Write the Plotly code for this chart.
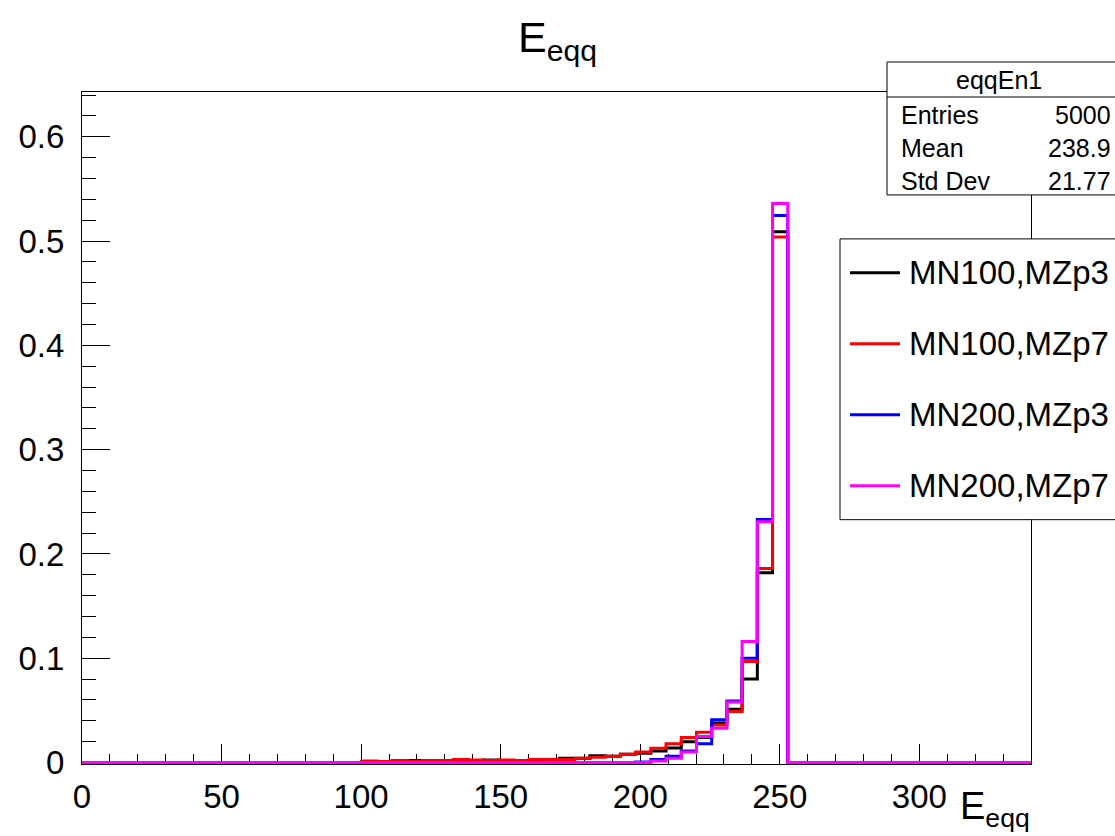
import plotly.graph_objects as go

# Bin edges of the E_eqq histogram (GeV); everything outside is empty
EDGES = [100.25, 105.70, 111.15, 116.60, 122.05, 127.50, 132.95, 138.40, 143.85,
         149.30, 154.75, 160.20, 165.65, 171.10, 176.55, 182.00, 187.45, 192.90,
         198.35, 203.80, 209.25, 214.70, 220.15, 225.60, 231.05, 236.50, 241.95,
         247.40, 252.85]
X_MIN, X_MAX = 0, 340

SERIES = ["MN100,MZp3", "MN100,MZp7", "MN200,MZp3", "MN200,MZp7"]
COLORS = ["#000000", "#ff0000", "#0000ff", "#ff00ff"]

# Normalised bin contents, one value per bin between consecutive EDGES
MN100_MZP3 = [0.001, 0.001, 0.0015, 0.002, 0.001, 0.002, 0.0015, 0.002, 0.0025,
              0.002, 0.002, 0.0025, 0.003, 0.004, 0.004, 0.0065, 0.006, 0.008, 0.009,
              0.011, 0.014, 0.020, 0.024, 0.038, 0.051, 0.080, 0.182, 0.509]
MN100_MZP7 = [0.0015, 0.001, 0.002, 0.001, 0.002, 0.002, 0.003, 0.0025, 0.002,
              0.0025, 0.002, 0.003, 0.003, 0.003, 0.004, 0.005, 0.006, 0.008, 0.010,
              0.0136, 0.018, 0.024, 0.029, 0.036, 0.049, 0.097, 0.186, 0.504]
MN200_MZP3 = [0, 0, 0, 0, 0, 0, 0, 0, 0,
              0, 0, 0, 0, 0, 0, 0, 0, 0, 0.0005,
              0.003, 0.006, 0.011, 0.018, 0.041, 0.059, 0.100, 0.233, 0.5245]
MN200_MZP7 = [0, 0, 0, 0, 0, 0, 0, 0, 0,
              0, 0, 0, 0, 0, 0, 0, 0, 0, 0,
              0.0015, 0.004, 0.010, 0.025, 0.033, 0.058, 0.116, 0.231, 0.536]
VALUES = [MN100_MZP3, MN100_MZP7, MN200_MZP3, MN200_MZP7]

STATS_NAME = "eqqEn1"
STATS_ROWS = [("Entries", "5000"), ("Mean", "238.9"), ("Std Dev", "21.77")]

W, H = 1115, 836
L, R, T, B = 82, 1031, 92, 764.5  # frame in pixels
Y_MIN, Y_MAX = -0.0014, 0.643     # small offset keeps the zero-level line unclipped
FONT = "Liberation Sans, Arial, Helvetica, sans-serif"


def px(x):
    return (x - L) / (R - L)


def py(y):
    return (B - y) / (B - T)


fig = go.Figure()

for name, color, vals in zip(SERIES, COLORS, VALUES):
    xs = [X_MIN] + EDGES + [X_MAX]
    ys = [0] + vals + [0, 0]
    fig.add_trace(go.Scatter(x=xs, y=ys, mode="lines", name=name,
                             line=dict(color=color, width=3, shape="hv"),
                             showlegend=False, hoverinfo="skip"))

axis_common = dict(showgrid=False, zeroline=False, showline=True, linecolor="black",
                   linewidth=1, mirror=True, ticks="inside", tickcolor="black",
                   tickwidth=1, layer="below traces",
                   tickfont=dict(family=FONT, size=33, color="black"))

fig.update_xaxes(range=[X_MIN, X_MAX], tickmode="array",
                 tickvals=[0, 50, 100, 150, 200, 250, 300],
                 ticktext=["0", "50", "100", "150", "200", "250", "300"],
                 ticklen=20, ticklabelstandoff=3,
                 minor=dict(dtick=10, tick0=0, ticks="inside", ticklen=10,
                            tickcolor="black", tickwidth=1),
                 **axis_common)
fig.update_yaxes(range=[Y_MIN, Y_MAX], tickmode="array",
                 tickvals=[0, 0.1, 0.2, 0.3, 0.4, 0.5, 0.6],
                 ticktext=["0", "0.1", "0.2", "0.3", "0.4", "0.5", "0.6"],
                 ticklen=28, ticklabelstandoff=10,
                 minor=dict(dtick=0.02, tick0=0, ticks="inside", ticklen=14,
                            tickcolor="black", tickwidth=1),
                 **axis_common)

shapes = []
annotations = []

# Title and x-axis label
annotations.append(dict(xref="paper", yref="paper", x=px(557), y=py(40),
                        text="E<sub>eqq</sub>", showarrow=False,
                        xanchor="center", yanchor="middle",
                        font=dict(family=FONT, size=43, color="black")))
annotations.append(dict(xref="paper", yref="paper", x=px(1032), y=py(810),
                        text="E<sub>eqq</sub>", showarrow=False,
                        xanchor="right", yanchor="middle",
                        font=dict(family=FONT, size=38, color="black")))

# Statistics box
sx0, sx1, sy0, sy1, sdiv = 887, 1120, 62, 195, 97
shapes.append(dict(type="rect", xref="paper", yref="paper",
                   x0=px(sx0), x1=px(sx1), y0=py(sy1), y1=py(sy0),
                   line=dict(color="black", width=1), fillcolor="white", layer="above"))
shapes.append(dict(type="line", xref="paper", yref="paper",
                   x0=px(sx0), x1=px(sx1), y0=py(sdiv), y1=py(sdiv),
                   line=dict(color="black", width=1), layer="above"))
annotations.append(dict(xref="paper", yref="paper", x=px(999), y=py(80),
                        text=STATS_NAME, showarrow=False, xanchor="center",
                        yanchor="middle", font=dict(family=FONT, size=25, color="black")))
for i, (k, v) in enumerate(STATS_ROWS):
    yy = py(115 + 33 * i)
    annotations.append(dict(xref="paper", yref="paper", x=px(899), y=yy, text=k,
                            showarrow=False, xanchor="left", yanchor="middle",
                            font=dict(family=FONT, size=25, color="black")))
    annotations.append(dict(xref="paper", yref="paper", x=px(1113), y=yy, text=v,
                            showarrow=False, xanchor="right", yanchor="middle",
                            font=dict(family=FONT, size=25, color="black")))

# Legend box
lx0, lx1, ly0, ly1 = 840, 1120, 239, 520
shapes.append(dict(type="rect", xref="paper", yref="paper",
                   x0=px(lx0), x1=px(lx1), y0=py(ly1), y1=py(ly0),
                   line=dict(color="black", width=1), fillcolor="white", layer="above"))
for i, (name, color) in enumerate(zip(SERIES, COLORS)):
    yy = 273 + 71 * i
    shapes.append(dict(type="line", xref="paper", yref="paper",
                       x0=px(850), x1=px(900), y0=py(yy), y1=py(yy),
                       line=dict(color=color, width=3), layer="above"))
    annotations.append(dict(xref="paper", yref="paper", x=px(907), y=py(yy), text=name,
                            showarrow=False, xanchor="left", yanchor="middle",
                            font=dict(family=FONT, size=33, color="black")))

fig.update_layout(width=W, height=H, margin=dict(l=L, r=W - R, t=T, b=H - B),
                  paper_bgcolor="white", plot_bgcolor="white",
                  shapes=shapes, annotations=annotations, showlegend=False)

fig.write_html("out.html")
